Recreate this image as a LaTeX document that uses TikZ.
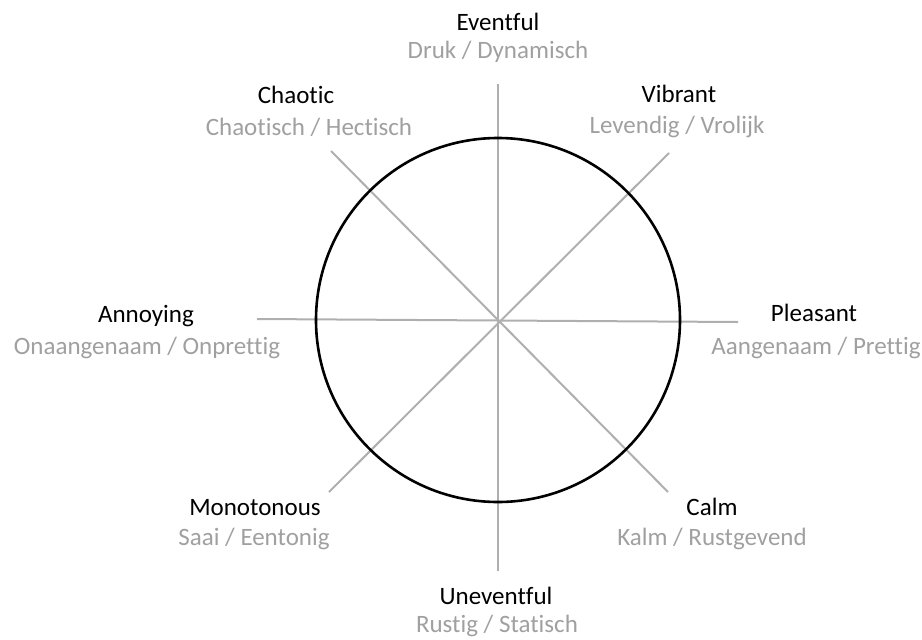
\documentclass[tikz,border=0pt]{standalone}
\usepackage{fontspec}
\setmainfont{Carlito}[Ligatures={NoCommon,NoContextual}]
\definecolor{axisgray}{RGB}{175,175,175}
\definecolor{labelgray}{RGB}{160,160,160}
\tikzset{
  en/.style={anchor=base, inner sep=0pt, text=black, font=\fontsize{25}{30}\selectfont},
  nl/.style={anchor=base, inner sep=0pt, text=labelgray, font=\fontsize{25}{30}\selectfont},
  axis/.style={draw=axisgray, line width=2pt},
  ring/.style={draw=black, line width=2.6pt}
}
\begin{document}
\begin{tikzpicture}[x=1pt,y=-1pt]
\useasboundingbox (0,0) rectangle (922,640);
% axis end points
\coordinate (c) at (499,321);
\coordinate (top) at (498,84);
\coordinate (bot) at (498,571);
\coordinate (lft) at (257,319);
\coordinate (rgt) at (738,322);
\coordinate (tl) at (331,151);
\coordinate (br) at (668,492);
\coordinate (tr) at (669,153);
\coordinate (bl) at (329,492);
\draw[axis] (top) -- (bot);
\draw[axis] (lft) -- (rgt);
\draw[axis] (tl) -- (br);
\draw[axis] (tr) -- (bl);
\coordinate (rc) at (498,320);
\draw[ring] (rc) circle[radius=182];
% labels
\node[en] (eventful) at (498,30) {Eventful};
\node[nl] (eventfulnl) at (498,58) {Druk / Dynamisch};
\node[en] (chaotic) at (296,103) {Chaotic};
\node[nl] (chaoticnl) at (309,135) {Chaotisch / Hectisch};
\node[en] (vibrant) at (679,102) {Vibrant};
\node[nl] (vibrantnl) at (677,133) {Levendig / Vrolijk};
\node[en] (annoying) at (146,322) {Annoying};
\node[nl] (annoyingnl) at (147,354) {Onaangenaam / Onprettig};
\node[en] (pleasant) at (814,321) {Pleasant};
\node[nl] (pleasantnl) at (816,354) {Aangenaam / Prettig};
\node[en] (monotonous) at (255,515) {Monotonous};
\node[nl] (monotonousnl) at (254,545) {Saai / Eentonig};
\node[en] (calm) at (712,515) {Calm};
\node[nl] (calmnl) at (712,545) {Kalm / Rustgevend};
\node[en] (uneventful) at (496,604) {Uneventful};
\node[nl] (uneventfulnl) at (497,632) {Rustig / Statisch};
\end{tikzpicture}
\end{document}
